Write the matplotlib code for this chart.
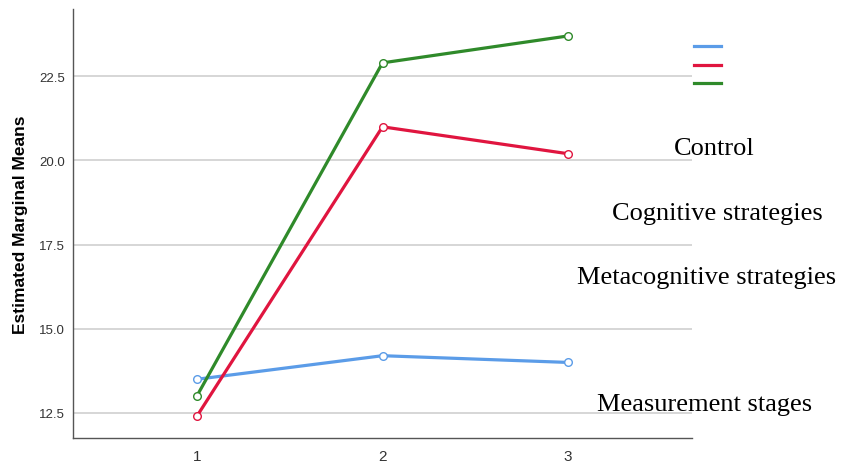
import matplotlib
matplotlib.use("Agg")
import matplotlib.pyplot as plt

stages = [1, 2, 3]
control = [13.5, 14.2, 14.0]
cognitive = [12.4, 21.0, 20.2]
metacognitive = [13.0, 22.9, 23.7]
series_names = ["Control", "Cognitive strategies", "Metacognitive strategies"]
colors = ["#5b9ce8", "#e0153f", "#2f8a2a"]
yticks = [12.5, 15.0, 17.5, 20.0, 22.5]

W, H = 841, 464
fig = plt.figure(figsize=(W / 100, H / 100), dpi=100)
ax = fig.add_axes([73 / W, 1 - 438.5 / H, (692 - 73) / W, (438.5 - 10) / H])

for vals, c in zip([control, cognitive, metacognitive], colors):
    ax.plot(stages, vals, color=c, lw=2.3, marker="o", ms=5.5, mfc="white",
            mec=c, mew=1.0, zorder=3, solid_capstyle="round")

ax.set_xlim(0.333, 3.667)
ax.set_ylim(11.77, 24.5)
ax.set_xticks(stages)
ax.set_xticklabels([str(s) for s in stages], family="Liberation Sans", fontsize=11, color="#333333")
ax.set_yticks(yticks)
ax.set_yticklabels([f"{v:.1f}" for v in yticks], family="Liberation Sans", fontsize=9.5, color="#333333")
ax.tick_params(length=0, pad=6)
ax.tick_params(axis="x", pad=8)
ax.grid(axis="y", color="#d0d0d0", lw=1.2)
ax.set_axisbelow(True)
for s in ["top", "right"]:
    ax.spines[s].set_visible(False)
for s in ["left", "bottom"]:
    ax.spines[s].set_color("#555555")
    ax.spines[s].set_linewidth(1.0)
ax.set_ylabel("Estimated Marginal Means", family="Liberation Sans", fontsize=12.5,
              fontweight="bold", labelpad=8)

# legend swatches
for i, c in enumerate(colors):
    y = 1 - (47 + 18.5 * i) / H
    fig.add_artist(plt.Line2D([694 / W, 721 / W], [y, y], color=c, lw=2.3,
                              transform=fig.transFigure))

serif = "Liberation Serif"
fs = 19
fig.text(714 / W, 1 - 149 / H, series_names[0], family=serif, fontsize=fs, ha="center", va="center")
fig.text(717 / W, 1 - 214 / H, series_names[1], family=serif, fontsize=fs, ha="center", va="center")
fig.text(707 / W, 1 - 278 / H, series_names[2], family=serif, fontsize=fs, ha="center", va="center")
fig.text(705 / W, 1 - 405 / H, "Measurement stages", family=serif, fontsize=fs, ha="center", va="center")

fig.savefig("out.png", dpi=100)
